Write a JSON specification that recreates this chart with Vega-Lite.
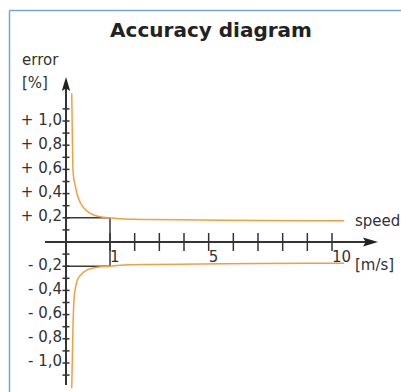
{
  "$schema": "https://vega.github.io/schema/vega-lite/v6.json",
  "width": 392,
  "height": 382,
  "autosize": {"type": "none"},
  "padding": {"left": 9, "top": 10, "right": 0, "bottom": 0},
  "background": "white",
  "config": {"view": {"stroke": null}, "font": "DejaVu Sans"},
  "title": {
    "text": "Accuracy diagram",
    "font": "DejaVu Sans",
    "fontSize": 20,
    "fontWeight": "bold",
    "color": "#222222",
    "anchor": "middle",
    "frame": "group",
    "offset": -31,
    "dx": 6
  },
  "datasets": {
    "curves": [
      {"x": 0.130, "y": 1.229, "branch": "upper"},
      {"x": 0.136, "y": 1.091, "branch": "upper"},
      {"x": 0.145, "y": 0.843, "branch": "upper"},
      {"x": 0.159, "y": 0.595, "branch": "upper"},
      {"x": 0.182, "y": 0.512, "branch": "upper"},
      {"x": 0.198, "y": 0.485, "branch": "upper"},
      {"x": 0.257, "y": 0.388, "branch": "upper"},
      {"x": 0.334, "y": 0.320, "branch": "upper"},
      {"x": 0.448, "y": 0.264, "branch": "upper"},
      {"x": 0.636, "y": 0.223, "branch": "upper"},
      {"x": 0.864, "y": 0.204, "branch": "upper"},
      {"x": 1.0, "y": 0.199, "branch": "upper"},
      {"x": 1.57, "y": 0.190, "branch": "upper"},
      {"x": 2.62, "y": 0.186, "branch": "upper"},
      {"x": 4.65, "y": 0.182, "branch": "upper"},
      {"x": 7.08, "y": 0.178, "branch": "upper"},
      {"x": 10.49, "y": 0.176, "branch": "upper"},
      {"x": 0.130, "y": -1.209, "branch": "lower"},
      {"x": 0.143, "y": -0.975, "branch": "lower"},
      {"x": 0.159, "y": -0.700, "branch": "lower"},
      {"x": 0.182, "y": -0.479, "branch": "lower"},
      {"x": 0.220, "y": -0.369, "branch": "lower"},
      {"x": 0.257, "y": -0.314, "branch": "lower"},
      {"x": 0.334, "y": -0.273, "branch": "lower"},
      {"x": 0.484, "y": -0.231, "branch": "lower"},
      {"x": 0.711, "y": -0.209, "branch": "lower"},
      {"x": 1.0, "y": -0.200, "branch": "lower"},
      {"x": 1.57, "y": -0.190, "branch": "lower"},
      {"x": 2.62, "y": -0.186, "branch": "lower"},
      {"x": 4.65, "y": -0.182, "branch": "lower"},
      {"x": 7.08, "y": -0.178, "branch": "lower"},
      {"x": 10.49, "y": -0.176, "branch": "lower"}
    ],
    "axes": [
      {"x": -0.4773, "y": 0, "x2": 11.55, "y2": 0},
      {"x": 0, "y": -1.1818, "x2": 0, "y2": 1.30}
    ],
    "box": [
      {"x": 0, "y": 0.2, "x2": 1, "y2": 0.2},
      {"x": 0, "y": -0.2, "x2": 1, "y2": -0.2},
      {"x": 1, "y": -0.2, "x2": 1, "y2": 0.2}
    ],
    "border": [
      {"x": -1.2841, "y": -1.2397, "x2": -1.2841, "y2": 1.9132},
      {"x": -1.2841, "y": 1.9132, "x2": 12.797, "y2": 1.9132}
    ],
    "yticks": [
      {"x": 0, "y": 1.1}, {"x": 0, "y": 1.0}, {"x": 0, "y": 0.9}, {"x": 0, "y": 0.8},
      {"x": 0, "y": 0.7}, {"x": 0, "y": 0.6}, {"x": 0, "y": 0.5}, {"x": 0, "y": 0.4},
      {"x": 0, "y": 0.3}, {"x": 0, "y": 0.2}, {"x": 0, "y": 0.1},
      {"x": 0, "y": -0.1}, {"x": 0, "y": -0.2}, {"x": 0, "y": -0.3}, {"x": 0, "y": -0.4},
      {"x": 0, "y": -0.5}, {"x": 0, "y": -0.6}, {"x": 0, "y": -0.7}, {"x": 0, "y": -0.8},
      {"x": 0, "y": -0.9}, {"x": 0, "y": -1.0}, {"x": 0, "y": -1.1}
    ],
    "xticks": [
      {"x": 1, "y": 0}, {"x": 2, "y": 0}, {"x": 3, "y": 0}, {"x": 4, "y": 0}, {"x": 5, "y": 0},
      {"x": 6, "y": 0}, {"x": 7, "y": 0}, {"x": 8, "y": 0}, {"x": 9, "y": 0}, {"x": 10, "y": 0}
    ],
    "ylabels": [
      {"x": 0, "y": 1.0, "label": "+ 1,0"},
      {"x": 0, "y": 0.8, "label": "+ 0,8"},
      {"x": 0, "y": 0.6, "label": "+ 0,6"},
      {"x": 0, "y": 0.4, "label": "+ 0,4"},
      {"x": 0, "y": 0.2, "label": "+ 0,2"},
      {"x": 0, "y": -0.2, "label": "- 0,2"},
      {"x": 0, "y": -0.4, "label": "- 0,4"},
      {"x": 0, "y": -0.6, "label": "- 0,6"},
      {"x": 0, "y": -0.8, "label": "- 0,8"},
      {"x": 0, "y": -1.0, "label": "- 1,0"}
    ],
    "xlabels": [
      {"x": 1, "y": 0, "label": "1"},
      {"x": 5, "y": 0, "label": "5"},
      {"x": 10, "y": 0, "label": "10"}
    ],
    "notes": [
      {"x": -1.0, "y": 1.4628, "label": "error"},
      {"x": -1.0, "y": 1.2727, "label": "[%]"},
      {"x": 10.93, "y": 0.1322, "label": "speed"},
      {"x": 10.93, "y": -0.2314, "label": "[m/s]"}
    ]
  },
  "encoding": {
    "x": {
      "field": "x",
      "type": "quantitative",
      "axis": null,
      "scale": {"type": "linear", "domain": [-1.29545, 0, 1, 12.797], "range": [0, 57, 101, 392], "nice": false, "zero": false}
    },
    "y": {
      "field": "y",
      "type": "quantitative",
      "axis": null,
      "scale": {"type": "linear", "domain": [-1.2397, 1.9174], "range": [382, 0], "nice": false, "zero": false}
    }
  },
  "layer": [
    {
      "data": {"name": "border"},
      "mark": {"type": "rule", "color": "#7aa3dc", "strokeWidth": 1.5},
      "encoding": {"x2": {"field": "x2"}, "y2": {"field": "y2"}}
    },
    {
      "data": {"name": "box"},
      "mark": {"type": "rule", "color": "#3a3a3a", "strokeWidth": 1.5},
      "encoding": {"x2": {"field": "x2"}, "y2": {"field": "y2"}}
    },
    {
      "data": {"name": "axes"},
      "mark": {"type": "rule", "color": "#333333", "strokeWidth": 2},
      "encoding": {"x2": {"field": "x2"}, "y2": {"field": "y2"}}
    },
    {
      "data": {"name": "yticks"},
      "mark": {"type": "tick", "orient": "horizontal", "size": 7, "thickness": 1.5, "color": "#333333", "opacity": 1}
    },
    {
      "data": {"name": "xticks"},
      "mark": {"type": "tick", "orient": "vertical", "size": 18, "thickness": 1.5, "color": "#333333", "opacity": 1}
    },
    {
      "data": {"values": [{"x": 0, "y": 1.3058}]},
      "mark": {"type": "point", "shape": "M0,-1L0.6,1L0,0.65L-0.6,1Z", "size": 196, "filled": true, "color": "#222222", "opacity": 1, "strokeWidth": 0}
    },
    {
      "data": {"values": [{"x": 11.561, "y": 0}]},
      "mark": {"type": "point", "shape": "M1,0L-1,0.6L-0.65,0L-1,-0.6Z", "size": 225, "filled": true, "color": "#222222", "opacity": 1, "strokeWidth": 0}
    },
    {
      "data": {"name": "curves"},
      "mark": {"type": "line", "color": "#f0a040", "strokeWidth": 1.5, "interpolate": "monotone"},
      "encoding": {"detail": {"field": "branch"}}
    },
    {
      "data": {"name": "ylabels"},
      "mark": {"type": "text", "align": "right", "baseline": "alphabetic", "dx": -4, "dy": 3.5, "fontSize": 15, "font": "DejaVu Sans", "color": "#333333"},
      "encoding": {"text": {"field": "label"}}
    },
    {
      "data": {"name": "xlabels"},
      "mark": {"type": "text", "align": "left", "baseline": "alphabetic", "dx": 0, "dy": 20, "fontSize": 15, "font": "DejaVu Sans", "color": "#333333"},
      "encoding": {"text": {"field": "label"}}
    },
    {
      "data": {"name": "notes"},
      "mark": {"type": "text", "align": "left", "baseline": "alphabetic", "fontSize": 15, "font": "DejaVu Sans", "color": "#333333"},
      "encoding": {"text": {"field": "label"}}
    }
  ]
}
